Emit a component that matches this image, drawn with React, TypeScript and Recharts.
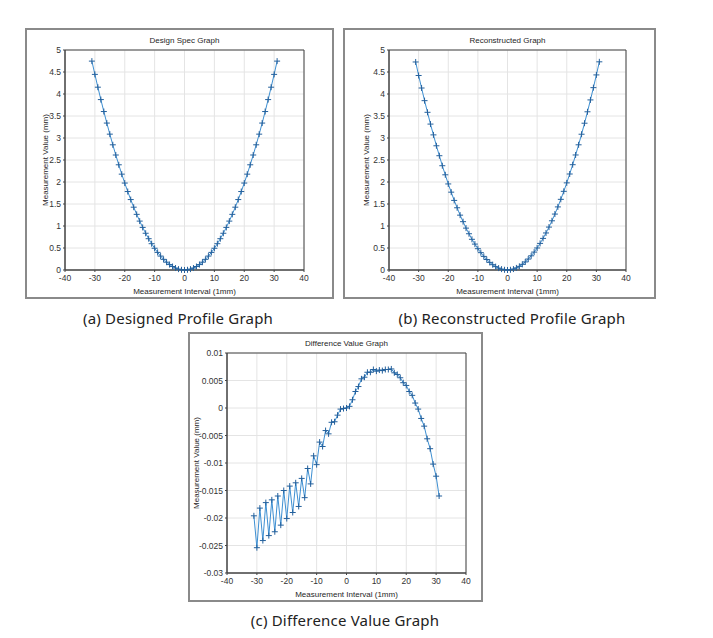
import { LineChart, Line, XAxis, YAxis, CartesianGrid, ReferenceArea } from 'recharts'

const xs = [
  -31, -30, -29, -28, -27, -26, -25, -24, -23, -22, -21, -20, -19, -18, -17, -16,
  -15, -14, -13, -12, -11, -10, -9, -8, -7, -6, -5, -4, -3, -2, -1, 0,
  1, 2, 3, 4, 5, 6, 7, 8, 9, 10, 11, 12, 13, 14, 15, 16,
  17, 18, 19, 20, 21, 22, 23, 24, 25, 26, 27, 28, 29, 30, 31,
]

const designSpec = [
  4.7473, 4.446, 4.1545, 3.873, 3.6013, 3.3394, 3.0875, 2.8454, 2.6133, 2.391, 2.1785, 1.976, 1.7833, 1.6006, 1.4277, 1.2646,
  1.1115, 0.9682, 0.8349, 0.7114, 0.5977, 0.494, 0.4001, 0.3162, 0.2421, 0.1778, 0.1235, 0.079, 0.0445, 0.0198, 0.0049, 0,
  0.0049, 0.0198, 0.0445, 0.079, 0.1235, 0.1778, 0.2421, 0.3162, 0.4001, 0.494, 0.5977, 0.7114, 0.8349, 0.9682, 1.1115, 1.2646,
  1.4277, 1.6006, 1.7833, 1.976, 2.1785, 2.391, 2.6133, 2.8454, 3.0875, 3.3394, 3.6013, 3.873, 4.1545, 4.446, 4.7473,
]

const reconstructed = [
  4.7277, 4.4206, 4.1363, 3.8489, 3.5841, 3.3162, 3.0708, 2.8229, 2.5973, 2.3697, 2.1635, 1.9559, 1.7691, 1.5816, 1.4141, 1.2467,
  1.0987, 0.9519, 0.8239, 0.6976, 0.589, 0.4837, 0.3939, 0.3092, 0.238, 0.1731, 0.1209, 0.0765, 0.0432, 0.0196, 0.0048, 0,
  0.0052, 0.0213, 0.0475, 0.0829, 0.1288, 0.1834, 0.2486, 0.3227, 0.4071, 0.5007, 0.6046, 0.7182, 0.8419, 0.9752, 1.1186, 1.271,
  1.4338, 1.6061, 1.7879, 1.9801, 2.1815, 2.3933, 2.6142, 2.8452, 3.0856, 3.3361, 3.5957, 3.8656, 4.1443, 4.4336, 4.7313,
]

const difference = [
  -0.0196, -0.0254, -0.0182, -0.0241, -0.0172, -0.0232, -0.0167, -0.0225, -0.016, -0.0213, -0.015, -0.0201, -0.0142, -0.019, -0.0136, -0.0179,
  -0.0128, -0.0163, -0.011, -0.0138, -0.0087, -0.0103, -0.0062, -0.007, -0.0041, -0.0047, -0.0026, -0.0025, -0.0013, -0.0002, -0.0001, 0,
  0.0003, 0.0015, 0.003, 0.0039, 0.0053, 0.0056, 0.0065, 0.0065, 0.007, 0.0067, 0.0069, 0.0068, 0.007, 0.007, 0.0071, 0.0064,
  0.0061, 0.0055, 0.0046, 0.0041, 0.003, 0.0023, 0.0009, -0.0002, -0.0019, -0.0033, -0.0056, -0.0074, -0.0102, -0.0124, -0.016,
]

const xTicks = [-40, -30, -20, -10, 0, 10, 20, 30, 40]
const profileTicks = [0, 0.5, 1, 1.5, 2, 2.5, 3, 3.5, 4, 4.5, 5]
const diffTicks = [-0.03, -0.025, -0.02, -0.015, -0.01, -0.005, 0, 0.005, 0.01]

const axisFont = "'Liberation Sans', Arial, sans-serif"
const capFont = "'Noto Sans', 'Noto Sans CJK KR', sans-serif"

const Plus = (props: any) => {
  const { cx, cy, index } = props
  if (cx == null || cy == null) return <g key={index} />
  return (
    <path
      key={index}
      d={`M${cx - 3},${cy}H${cx + 3}M${cx},${cy - 3}V${cy + 3}`}
      stroke="#24609c"
      strokeWidth={1}
      fill="none"
    />
  )
}

function Panel({ left, top, w, h, m, values, yDomain, yTicks, title, ylabX }: any) {
  const data = xs.map((x, i) => ({ x, y: values[i] }))
  const plotL = left + m.l
  const plotR = left + w - m.r
  const cx = (plotL + plotR) / 2
  const plotT = top + m.t
  const plotB = top + h - m.b
  const txt = { position: 'absolute', fontFamily: axisFont, fontSize: 8, color: '#262626', whiteSpace: 'nowrap', lineHeight: '10px' } as any
  return (
    <>
      <div style={{ position: 'absolute', left, top, width: w, height: h, boxSizing: 'border-box', border: '2px solid #8a8a8a' }} />
      <div style={{ position: 'absolute', left, top }}>
        <LineChart width={w} height={h} data={data} margin={{ top: m.t, right: m.r, bottom: 0, left: 0 }}>
          <CartesianGrid stroke="#e4e4e4" />
          <XAxis
            dataKey="x"
            type="number"
            domain={[-40, 40]}
            ticks={xTicks}
            height={m.b}
            tickSize={2}
            tickMargin={3}
            stroke="#444"
            tick={{ fontSize: 8.5, fill: '#333', fontFamily: axisFont }}
          />
          <YAxis
            type="number"
            domain={yDomain}
            ticks={yTicks}
            width={m.l}
            tickSize={2}
            tickMargin={2}
            stroke="#444"
            interval={0}
            tick={{ fontSize: 8.5, fill: '#333', fontFamily: axisFont }}
          />
          <ReferenceArea x1={-40} x2={40} y1={yDomain[0]} y2={yDomain[1]} fill="none" stroke="#444" strokeWidth={1} />
          <Line
            type="linear"
            dataKey="y"
            stroke="#3d8fd2"
            strokeWidth={1}
            dot={Plus}
            activeDot={false}
            isAnimationActive={false}
          />
        </LineChart>
      </div>
      <div style={{ ...txt, left: cx, top: plotT - 14, transform: 'translateX(-50%)' }}>{title}</div>
      <div style={{ ...txt, left: cx, top: plotB + 17, transform: 'translateX(-50%)' }}>Measurement Interval (1mm)</div>
      <div style={{ ...txt, left: ylabX, top: (plotT + plotB) / 2, transform: 'translate(-50%, -50%) rotate(-90deg)' }}>
        Measurement Value (mm)
      </div>
    </>
  )
}

const Caption = ({ x, y, text }: any) => (
  <div
    style={{
      position: 'absolute', left: x, top: y, transform: 'translate(-50%, -50%)',
      fontFamily: capFont, fontSize: 15, color: '#222', whiteSpace: 'nowrap', letterSpacing: 0.2,
    }}
  >
    {text}
  </div>
)

export default function App() {
  return (
    <div style={{ position: 'absolute', left: 0, top: 0, width: 713, height: 638, background: '#fff', overflow: 'hidden' }}>
      <Panel
        left={25} top={28} w={309} h={271}
        m={{ l: 40, t: 22, r: 30, b: 29 }}
        values={designSpec} yDomain={[0, 5]} yTicks={profileTicks}
        title="Design Spec Graph" ylabX={46}
      />
      <Panel
        left={343} top={28} w={313} h={271}
        m={{ l: 46, t: 22, r: 30, b: 29 }}
        values={reconstructed} yDomain={[0, 5]} yTicks={profileTicks}
        title="Reconstructed Graph" ylabX={367}
      />
      <Panel
        left={188} top={332} w={295} h={270}
        m={{ l: 39, t: 21, r: 17, b: 29 }}
        values={difference} yDomain={[-0.03, 0.01]} yTicks={diffTicks}
        title="Difference Value Graph" ylabX={197}
      />
      <Caption x={178} y={318} text="(a) Designed Profile Graph" />
      <Caption x={512} y={318} text="(b) Reconstructed Profile Graph" />
      <Caption x={345} y={620} text="(c) Difference Value Graph" />
    </div>
  )
}
